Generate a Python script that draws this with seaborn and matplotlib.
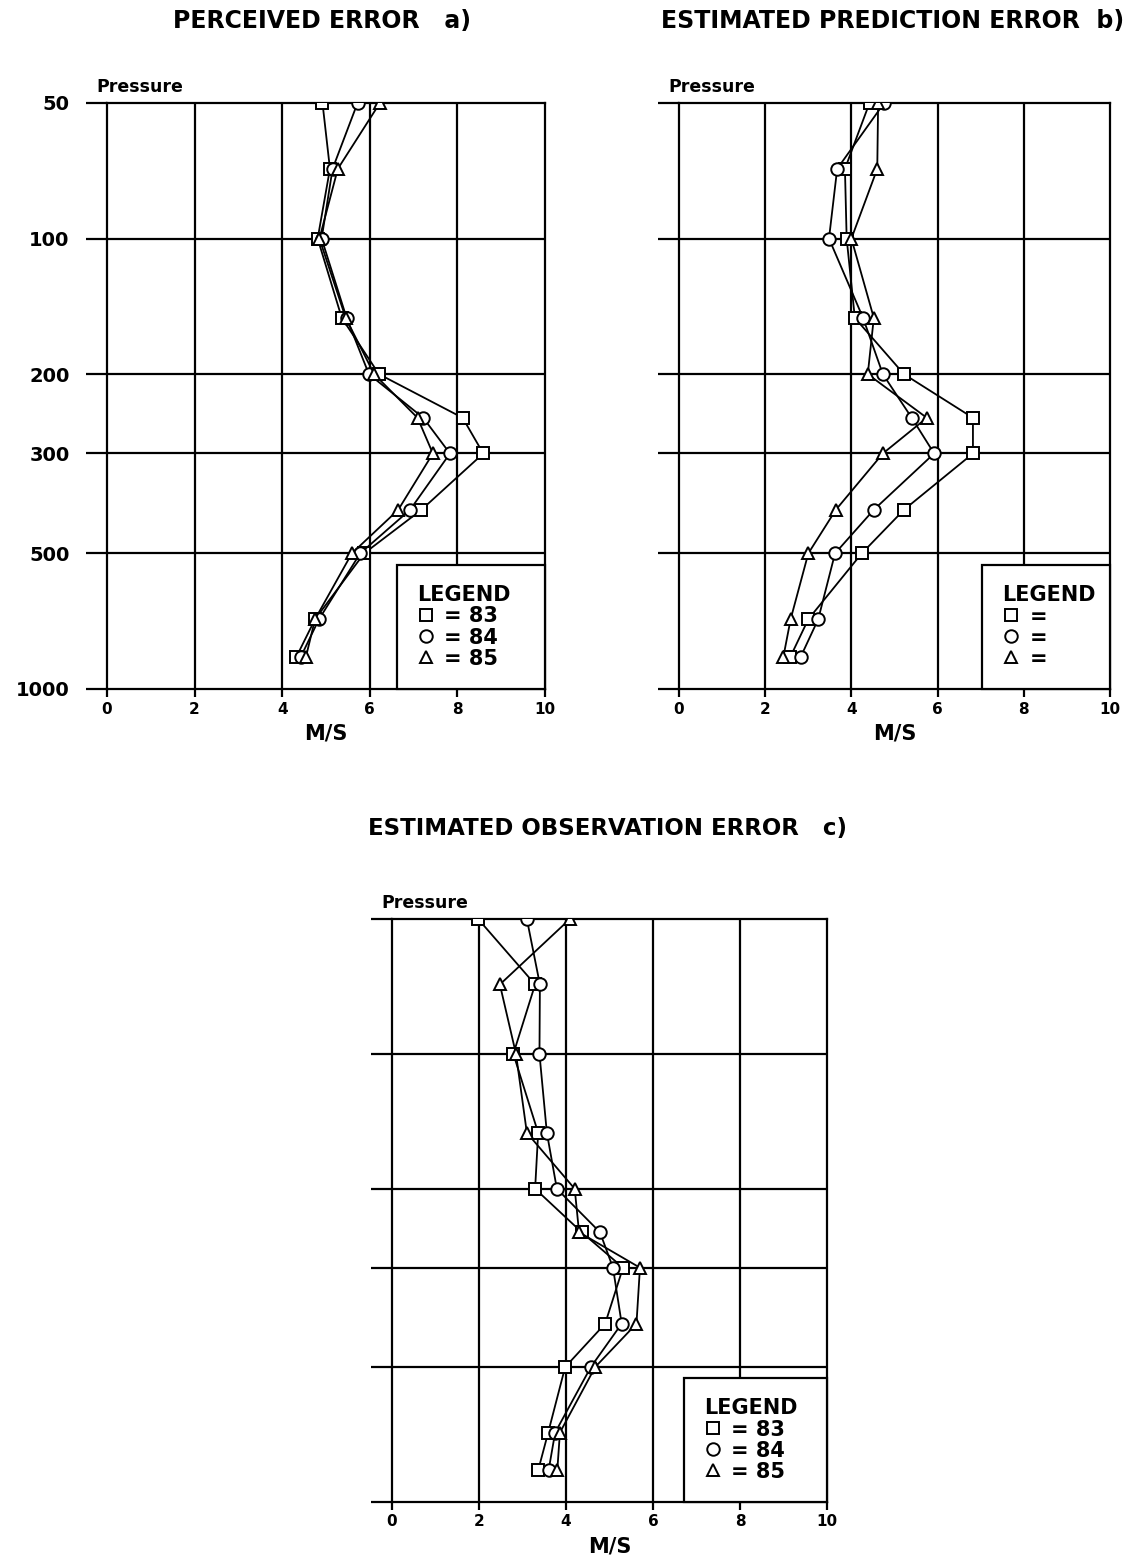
import numpy as np
import pandas as pd
import matplotlib
matplotlib.use('Agg')
import matplotlib.pyplot as plt
import seaborn as sns
from matplotlib.lines import Line2D

# ---------------- data ----------------
pressure = [50, 70, 100, 150, 200, 250, 300, 400, 500, 700, 850]
years = ["83", "84", "85"]

a_83 = [4.92, 5.09, 4.81, 5.36, 6.21, 8.12, 8.59, 7.18, 5.87, 4.75, 4.32]
a_84 = [5.72, 5.15, 4.90, 5.47, 5.98, 7.22, 7.83, 6.92, 5.78, 4.84, 4.42]
a_85 = [6.23, 5.27, 4.85, 5.45, 6.10, 7.09, 7.44, 6.65, 5.59, 4.75, 4.54]

b_83 = [4.42, 3.85, 3.89, 4.08, 5.22, 6.82, 6.82, 5.22, 4.24, 3.00, 2.58]
b_84 = [4.76, 3.67, 3.48, 4.27, 4.73, 5.40, 5.92, 4.52, 3.62, 3.23, 2.82]
b_85 = [4.62, 4.60, 4.00, 4.52, 4.38, 5.75, 4.73, 3.64, 3.00, 2.59, 2.42]

c_83 = [1.98, 3.29, 2.79, 3.36, 3.29, 4.36, 5.31, 4.90, 3.98, 3.59, 3.36]
c_84 = [3.10, 3.40, 3.39, 3.56, 3.79, 4.78, 5.08, 5.28, 4.57, 3.75, 3.60]
c_85 = [4.09, 2.48, 2.85, 3.10, 4.20, 4.30, 5.70, 5.62, 4.67, 3.86, 3.80]

titles = ["PERCEIVED ERROR   a)", "ESTIMATED PREDICTION ERROR  b)",
          "ESTIMATED OBSERVATION ERROR   c)"]
x_ticks = [0, 2, 4, 6, 8, 10]
y_ticks = [50, 100, 200, 300, 500, 1000]
legend_labels_a = ["= 83", "= 84", "= 85"]
legend_labels_b = ["=", "=", "="]
legend_labels_c = ["= 83", "= 84", "= 85"]

# ---------------- style ----------------
sns.set_theme(style="white")
plt.rcParams['font.family'] = ['DejaVu Sans']
plt.rcParams['font.weight'] = 'bold'
for k in ['text.color', 'axes.labelcolor', 'xtick.color', 'ytick.color', 'axes.edgecolor']:
    plt.rcParams[k] = 'black'

W, H = 1139, 1560
fig = plt.figure(figsize=(W / 100, H / 100), dpi=100)


def px_axes(left, right, top, bottom):
    return fig.add_axes([left / W, 1 - bottom / H, (right - left) / W, (bottom - top) / H])


markers = ["s", "o", "^"]


def draw_panel(ax, series, leg_labels, show_ylabels, leg_x0):
    for vals, yr, mk in zip(series, years, markers):
        df = pd.DataFrame({"x": vals, "p": pressure})
        sns.lineplot(data=df, x="x", y="p", sort=False, estimator=None, ax=ax,
                     color="black", lw=1.3, marker=mk, markersize=9,
                     markerfacecolor="white", markeredgecolor="black",
                     markeredgewidth=1.4, zorder=5)
    ax.set_yscale("log")
    ax.set_ylim(1000, 50)
    ax.set_xlim(0, 10)
    for gx in [2, 4, 6, 8]:
        ax.axvline(gx, color="black", lw=1.6, zorder=1)
    for gy in [100, 200, 300, 500]:
        ax.axhline(gy, color="black", lw=1.6, zorder=1)
    for s in ax.spines.values():
        s.set_visible(True)
        s.set_color("black")
        s.set_linewidth(1.6)
    ax.set_xticks(x_ticks)
    ax.set_xticklabels([str(t) for t in x_ticks], fontsize=11, fontweight="bold")
    ax.set_yticks(y_ticks)
    ax.yaxis.set_minor_locator(matplotlib.ticker.NullLocator())
    if show_ylabels:
        ax.set_yticklabels([str(t) for t in y_ticks], fontsize=14, fontweight="bold")
    else:
        ax.set_yticklabels([])
    ax.tick_params(axis="y", which="major", direction="out", length=15, width=1.6,
                   left=True, pad=12, color="black")
    ax.tick_params(axis="x", which="major", direction="out", length=6, width=1.6,
                   bottom=True, pad=3, color="black")
    ax.set_xlabel("M/S", fontsize=15, fontweight="bold", labelpad=5)
    ax.set_ylabel("")
    ax.text(-0.025, 1.012, "Pressure", transform=ax.transAxes, ha="left", va="bottom",
            fontsize=12.5, fontweight="bold")
    handles = [Line2D([], [], ls="none", marker=m, markersize=9, markerfacecolor="white",
                      markeredgecolor="black", markeredgewidth=1.4) for m in markers]
    leg = ax.legend(handles, leg_labels, title="LEGEND", loc="lower left",
                    bbox_to_anchor=(leg_x0, 0, 1 - leg_x0, 0.2), mode="expand",
                    borderaxespad=0, fancybox=False, edgecolor="black", framealpha=1,
                    handlelength=0.8, handletextpad=0.5, labelspacing=0.05,
                    prop={"size": 15, "weight": "bold"}, alignment="left",
                    borderpad=0.98)
    leg.get_title().set_fontsize(15)
    leg.get_title().set_fontweight("bold")
    leg.get_frame().set_linewidth(1.6)
    leg.set_zorder(10)
    return leg


ax_a = px_axes(107, 545, 103, 689)
draw_panel(ax_a, [a_83, a_84, a_85], legend_labels_a, True, 0.662)

ax_b = px_axes(679, 1110, 103, 689)
draw_panel(ax_b, [b_83, b_84, b_85], legend_labels_b, False, 0.703)

ax_c = px_axes(392, 827, 919, 1502)
draw_panel(ax_c, [c_83, c_84, c_85], legend_labels_c, False, 0.671)

fig.text(322 / W, 1 - 21 / H, titles[0], ha="center", va="center", fontsize=17, fontweight="bold")
fig.text(893 / W, 1 - 21 / H, titles[1], ha="center", va="center", fontsize=17, fontweight="bold")
fig.text(607 / W, 1 - 829 / H, titles[2], ha="center", va="center", fontsize=16.5, fontweight="bold")

fig.savefig("out.png", dpi=100, facecolor="white")
